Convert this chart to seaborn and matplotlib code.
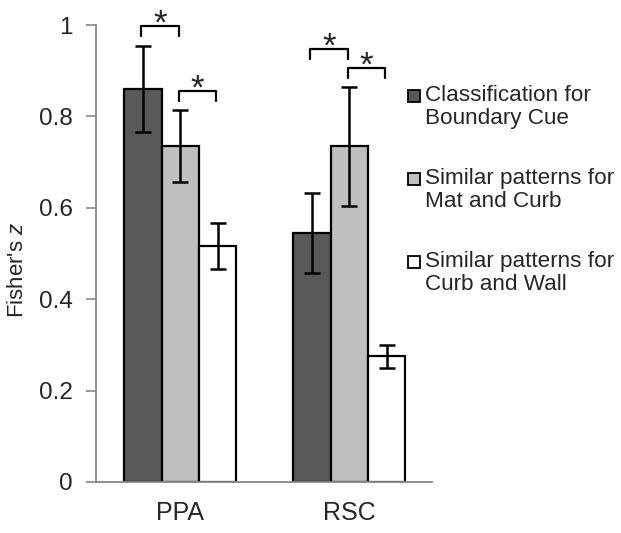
import numpy as np
import pandas as pd
import matplotlib.pyplot as plt
import seaborn as sns
from matplotlib.patches import Rectangle

# values
regions = ["PPA", "RSC"]
conditions = ["Classification for\nBoundary Cue",
              "Similar patterns for\nMat and Curb",
              "Similar patterns for\nCurb and Wall"]
ppa_vals = [0.86, 0.735, 0.517]
rsc_vals = [0.545, 0.735, 0.275]
ppa_err = [0.095, 0.078, 0.05]
rsc_err = [0.088, 0.13, 0.025]
colors = ["#595959", "#bfbfbf", "#ffffff"]

df = pd.DataFrame({
    "region": np.repeat(regions, len(conditions)),
    "condition": conditions * len(regions),
    "z": ppa_vals + rsc_vals,
    "err": ppa_err + rsc_err,
})

sns.set_style("white")
plt.rcParams["font.family"] = ["Liberation Sans", "DejaVu Sans"]
plt.rcParams["mathtext.fontset"] = "custom"
plt.rcParams["mathtext.it"] = "Liberation Sans:italic"
plt.rcParams["mathtext.rm"] = "Liberation Sans"

fig = plt.figure(figsize=(6.21, 5.33), dpi=100)
ax = fig.add_axes([96 / 621, 51 / 533, 336 / 621, 457 / 533])

sns.barplot(data=df, x="region", y="z", hue="condition", order=regions,
            hue_order=conditions, palette=colors, errorbar=None,
            width=0.664, edgecolor="black", linewidth=1.6, saturation=1,
            legend=False, ax=ax)

# error bars at bar centres
bars = ax.patches[:len(df)]
def center(reg, cond):
    i, j = conditions.index(cond), regions.index(reg)
    p = bars[i * len(regions) + j]
    return p.get_x() + p.get_width() / 2

xs = [center(r, c) for r, c in zip(df.region, df.condition)]
ax.errorbar(xs, df.z, yerr=df.err, fmt="none", ecolor="black", elinewidth=1.8,
            capsize=6, capthick=1.8, zorder=5)

# significance brackets: (region, cond a, cond b, bracket top, star centre)
brackets = [("PPA", 0, 1, 0.998, 1.024), ("PPA", 1, 2, 0.856, 0.88),
            ("RSC", 0, 1, 0.947, 0.972), ("RSC", 1, 2, 0.906, 0.932)]
for reg, a, b, top, star in brackets:
    x1 = center(reg, conditions[a]) - 0.01
    x2 = center(reg, conditions[b]) - 0.01
    ax.plot([x1, x1, x2, x2], [top - 0.022, top, top, top - 0.022],
            color="black", lw=1.6, clip_on=False)
    ax.text((x1 + x2) / 2, star - 0.042, "*", ha="center", va="baseline",
            fontsize=25, clip_on=False)

ax.set_xlim(-0.5, 1.49)
ax.set_ylim(0, 1)
ax.set_yticks([0, 0.2, 0.4, 0.6, 0.8, 1.0])
ax.set_yticklabels(["0", "0.2", "0.4", "0.6", "0.8", "1"])
ax.set_xlabel("")
ax.set_ylabel("Fisher's $\\mathit{z}$", fontsize=16)
ax.yaxis.set_label_coords(-0.202, 0.464)
ax.tick_params(axis="y", length=7, width=1.2, color="#888888",
               labelsize=17.5, direction="out", left=True, pad=10)
ax.tick_params(axis="x", length=0, labelsize=18, pad=14)
sns.despine(ax=ax)
for s in ["left", "bottom"]:
    ax.spines[s].set_color("#888888")
    ax.spines[s].set_linewidth(1.3)

# legend with swatches aligned to the first line of each label
for k, (lab, c) in enumerate(zip(conditions, colors)):
    py = 96 + 83 * k
    fig.add_artist(Rectangle((408 / 621, 1 - (py + 6) / 533), 12 / 621,
                             12 / 533, transform=fig.transFigure,
                             facecolor=c, edgecolor="black", lw=1.3))
    fig.text(425 / 621, 1 - (py - 11) / 533, lab, ha="left", va="top",
             fontsize=16.2, linespacing=1.14)

fig.savefig("out.png", dpi=100)
